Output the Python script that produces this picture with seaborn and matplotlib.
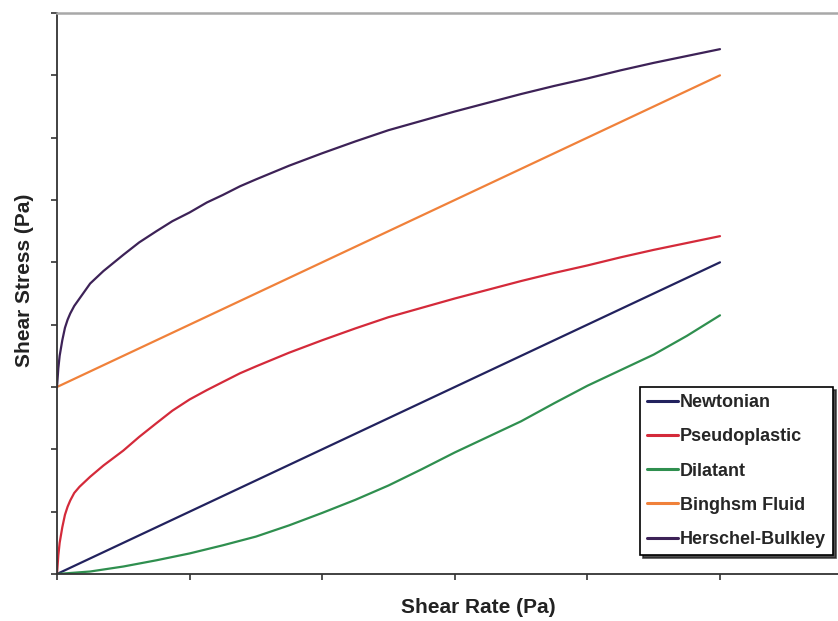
import matplotlib
matplotlib.use("Agg")
import matplotlib.pyplot as plt
import seaborn as sns
import pandas as pd

# Flow curves of five rheological models (arbitrary units)
newtonian_x = [0, 1, 2, 3, 4, 5]
newtonian_y = [0, 1, 2, 3, 4, 5]

pseudo_x = [0, 0.01, 0.02, 0.04, 0.06, 0.08, 0.1, 0.13, 0.17, 0.25, 0.35, 0.5, 0.62,
            0.75, 0.87, 1.0, 1.13, 1.25, 1.38, 1.5, 1.75, 2.0, 2.25, 2.5, 2.75, 3.0,
            3.25, 3.5, 3.75, 4.0, 4.25, 4.5, 4.75, 5.0]
pseudo_y = [0, 0.3, 0.5, 0.75, 0.95, 1.08, 1.18, 1.3, 1.4, 1.56, 1.74, 1.98, 2.2,
            2.42, 2.62, 2.8, 2.95, 3.08, 3.22, 3.33, 3.55, 3.75, 3.94, 4.12, 4.27, 4.42,
            4.56, 4.7, 4.83, 4.95, 5.08, 5.2, 5.31, 5.42]

dilatant_x = [0, 0.25, 0.5, 0.75, 1.0, 1.25, 1.5, 1.75, 2.0, 2.25, 2.5, 2.75, 3.0,
              3.25, 3.5, 3.75, 4.0, 4.25, 4.5, 4.75, 5.0]
dilatant_y = [0, 0.04, 0.12, 0.22, 0.33, 0.46, 0.6, 0.78, 0.98, 1.19, 1.42, 1.68, 1.95,
              2.2, 2.45, 2.74, 3.02, 3.27, 3.52, 3.82, 4.15]

bingham_x = [0, 1, 2, 3, 4, 5]
bingham_y = [3, 4, 5, 6, 7, 8]

hb_x = [0, 0.01, 0.02, 0.04, 0.06, 0.08, 0.1, 0.13, 0.17, 0.25, 0.35, 0.5, 0.62,
        0.75, 0.87, 1.0, 1.13, 1.25, 1.38, 1.5, 1.75, 2.0, 2.25, 2.5, 2.75, 3.0,
        3.25, 3.5, 3.75, 4.0, 4.25, 4.5, 4.75, 5.0]
hb_y = [3.0, 3.3, 3.5, 3.75, 3.95, 4.08, 4.18, 4.3, 4.42, 4.66, 4.86, 5.12, 5.32,
        5.5, 5.66, 5.8, 5.96, 6.08, 6.22, 6.33, 6.55, 6.75, 6.94, 7.12, 7.27, 7.42,
        7.56, 7.7, 7.83, 7.95, 8.08, 8.2, 8.31, 8.42]

models = ["Newtonian", "Pseudoplastic", "Dilatant", "Binghsm Fluid", "Herschel-Bulkley"]
colors = ["#22225e", "#d42a3a", "#2f8f4f", "#f0813a", "#3d2257"]

frames = []
for name, xs, ys in zip(models,
                        [newtonian_x, pseudo_x, dilatant_x, bingham_x, hb_x],
                        [newtonian_y, pseudo_y, dilatant_y, bingham_y, hb_y]):
    frames.append(pd.DataFrame({"rate": xs, "stress": ys, "model": name}))
df = pd.concat(frames, ignore_index=True)

sns.set_theme(style="white")
plt.rcParams["font.family"] = ["Liberation Sans", "DejaVu Sans"]

W, H = 838, 621
fig = plt.figure(figsize=(W / 100, H / 100), dpi=100)
ax = fig.add_axes([57 / W, 1 - 574 / H, 1 - 57 / W, (574 - 13) / H])

sns.lineplot(data=df, x="rate", y="stress", hue="model", hue_order=models,
             palette=dict(zip(models, colors)), estimator=None, sort=False,
             linewidth=1.6, ax=ax)

ax.set_xlim(0, 5.89)
ax.set_ylim(0, 9)
ax.set_xticks(range(0, 6))
ax.set_yticks(range(0, 10))
ax.set_xticklabels([])
ax.set_yticklabels([])
ax.tick_params(axis="both", direction="out", length=4.5, width=1.2, color="#333333",
               bottom=True, left=True)

for side in ["left", "bottom"]:
    ax.spines[side].set_color("#333333")
    ax.spines[side].set_linewidth(1.3)
ax.spines["top"].set_color("#a8a8a8")
ax.spines["top"].set_linewidth(1.8)
ax.spines["right"].set_visible(False)

ax.set_xlabel("Shear Rate (Pa)", fontsize=15, fontweight="bold", color="#222222")
ax.set_ylabel("Shear Stress (Pa)", fontsize=15, fontweight="bold", color="#222222")
ax.xaxis.set_label_coords((478 - 57) / (W - 57), -(598 - 574) / (574 - 13))
ax.yaxis.set_label_coords(-(57 - 34) / (W - 57), (574 - 280) / (574 - 13))

leg = ax.legend(loc="upper left", bbox_to_anchor=(640 / W, 1 - 387 / H),
                bbox_transform=fig.transFigure, borderaxespad=0,
                prop={"weight": "bold", "size": 13}, handlelength=1.7,
                handletextpad=0.12, labelspacing=0.95, borderpad=0.4,
                frameon=True, fancybox=False, shadow={"color": "#222222", "alpha": 0.8},
                title=None)
leg.get_frame().set_edgecolor("black")
leg.get_frame().set_linewidth(1.2)
for line in leg.get_lines():
    line.set_linewidth(2.2)

fig.savefig("out.png", dpi=100)
